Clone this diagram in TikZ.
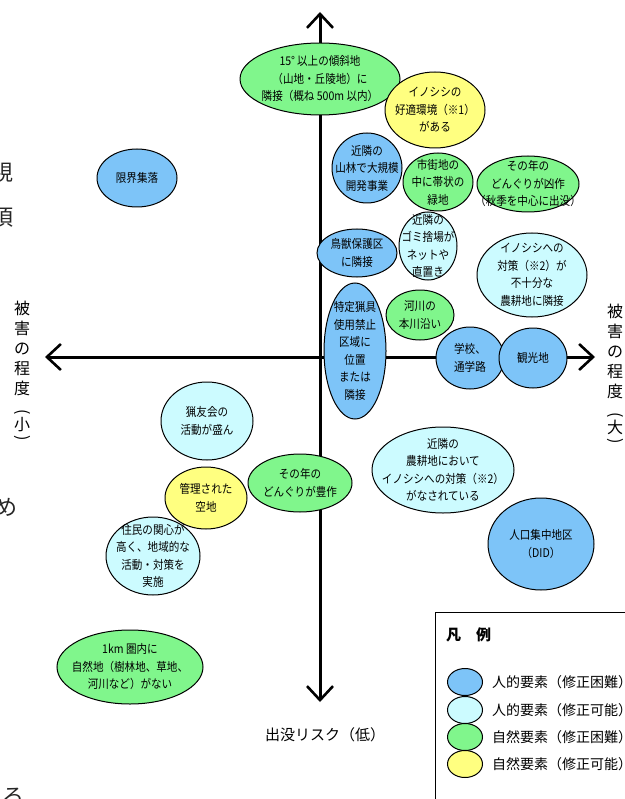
\documentclass[tikz,border=0pt]{standalone}
\usepackage{fontspec}
\usepackage{graphicx}
\usetikzlibrary{shapes.geometric,arrows.meta}
\newfontfamily\jp[FakeStretch=0.88]{Noto Sans CJK JP}
\newfontfamily\jpw{Noto Sans CJK JP}
\definecolor{hb}{RGB}{125,196,248}
\definecolor{hc}{RGB}{204,251,255}
\definecolor{hg}{RGB}{128,246,140}
\definecolor{hy}{RGB}{255,255,128}
\tikzset{
  blobshape/.style={ellipse, draw=black, line width=1pt, inner sep=0pt},
  txt/.style={font=\jp\fontsize{12}{17.5}\selectfont, align=center, inner sep=0pt},
  axisline/.style={line width=3pt, -{Straight Barb[length=14pt,width=26pt,line width=2.6pt]}},
  vlabel/.style={font=\jpw\fontsize{16}{20}\selectfont, align=center, inner sep=0pt, anchor=north},
  lgtext/.style={font=\jpw\fontsize{14}{14}\selectfont, anchor=west, inner sep=0pt},
  pagechar/.style={font=\jpw\fontsize{22}{22}\selectfont, text=black!85, inner sep=0pt}
}
\newcommand\blob[6]{%
  \node[blobshape, fill=#5, minimum width=#3pt, minimum height=#4pt] (#1) at (#2) {};
  \node[txt] (#1-t) at (#1) {#6};}
\newcommand\vop{\rotatebox[origin=c]{-90}{(}}
\newcommand\vcp{\rotatebox[origin=c]{-90}{)}}
\begin{document}
\begin{tikzpicture}[x=1pt,y=-1pt]
\useasboundingbox (0,0) rectangle (624,799);
% stray page characters
\node[pagechar] (s1) at (2,172) {視};
\node[pagechar] (s2) at (2,218) {項};
\node[pagechar] (s3) at (6,507) {め};
\node[pagechar] (s4) at (13,797) {ろ};
% axes
\coordinate (o) at (320,357);
\coordinate (vt) at (320,12);
\coordinate (vb) at (320,702);
\coordinate (hl) at (45,357);
\coordinate (hr) at (595,357);
\draw[axisline] (o) -- (vt);
\draw[axisline] (o) -- (vb);
\draw[axisline] (o) -- (hl);
\draw[axisline] (o) -- (hr);
% axis labels
\node[vlabel] (lleft) at (22,301) {被\\害\\の\\程\\度\\[3pt]\vop\\[-7pt]小\\[-7pt]\vcp};
\node[vlabel] (lright) at (615,304) {被\\害\\の\\程\\度\\[3pt]\vop\\[-7pt]大\\[-7pt]\vcp};
\node[font=\jpw\fontsize{15}{15}\selectfont, inner sep=0pt] (lbot) at (325,735) {出没リスク（低）};
% elements
\blob{a1}{137,178}{80}{58}{hb}{限界集落}
\blob{a2}{320,79}{160}{72}{hg}{15°\,以上の傾斜地\\（山地・丘陵地）に\\隣接（概ね 500m 以内）}
\blob{a3}{435,110}{100}{76}{hy}{イノシシの\\好適環境（※1）\\がある}
\blob{a4}{367,168}{70}{70}{hb}{近隣の\\山林で大規模\\開発事業}
\blob{a5}{438,182}{70}{58}{hg}{市街地の\\中に帯状の\\緑地}
\blob{a6}{528,184}{102}{56}{hg}{その年の\\どんぐりが凶作\\（秋季を中心に出没）}
\blob{a7}{357,253}{80}{48}{hb}{鳥獣保護区\\に隣接}
\blob{a8}{428,246}{58}{68}{hc}{近隣の\\ゴミ捨場が\\ネットや\\直置き}
\blob{a9}{532,275}{110}{84}{hc}{イノシシへの\\対策（※2）が\\不十分な\\農耕地に隣接}
\blob{a10}{420,315}{68}{50}{hg}{河川の\\本川沿い}
\blob{a11}{355,351}{62}{136}{hb}{特定猟具\\使用禁止\\区域に\\位置\\または\\隣接}
\blob{a12}{470,358}{68}{62}{hb}{学校、\\通学路}
\blob{a13}{533,358}{68}{60}{hb}{観光地}
\blob{a14}{443,470}{142}{86}{hc}{近隣の\\農耕地において\\イノシシへの対策（※2）\\がなされている}
\blob{a15}{541,544}{106}{92}{hb}{人口集中地区\\（DID）}
\blob{a16}{207,421}{92}{78}{hc}{猟友会の\\活動が盛ん}
\blob{a17}{300,483}{104}{58}{hg}{その年の\\どんぐりが豊作}
\blob{a18}{206,498}{82}{62}{hy}{管理された\\空地}
\blob{a19}{153,556}{94}{78}{hc}{住民の関心が\\高く、地域的な\\活動・対策を\\実施}
\blob{a20}{130,667}{146}{74}{hg}{1km 圏内に\\自然地（樹林地、草地、\\河川など）がない}
% legend
\node[draw=black, line width=0.9pt, fill=white, minimum width=220pt, minimum height=220pt, anchor=north west, inner sep=0pt] (legend) at (435,612) {};
\node[font=\jpw\bfseries\fontsize{15}{15}\selectfont, anchor=west, inner sep=0pt] (lgt) at (446,635) {凡　例};
\node[blobshape, fill=hb, minimum width=35pt, minimum height=27pt] (lg1) at (465,682) {};
\node[blobshape, fill=hc, minimum width=35pt, minimum height=27pt] (lg2) at (465,710) {};
\node[blobshape, fill=hg, minimum width=35pt, minimum height=27pt] (lg3) at (465,737) {};
\node[blobshape, fill=hy, minimum width=35pt, minimum height=27pt] (lg4) at (465,764) {};
\node[lgtext] (lt1) at (492,682) {人的要素（修正困難）};
\node[lgtext] (lt2) at (492,710) {人的要素（修正可能）};
\node[lgtext] (lt3) at (492,737) {自然要素（修正困難）};
\node[lgtext] (lt4) at (492,764) {自然要素（修正可能）};
\end{tikzpicture}
\end{document}
